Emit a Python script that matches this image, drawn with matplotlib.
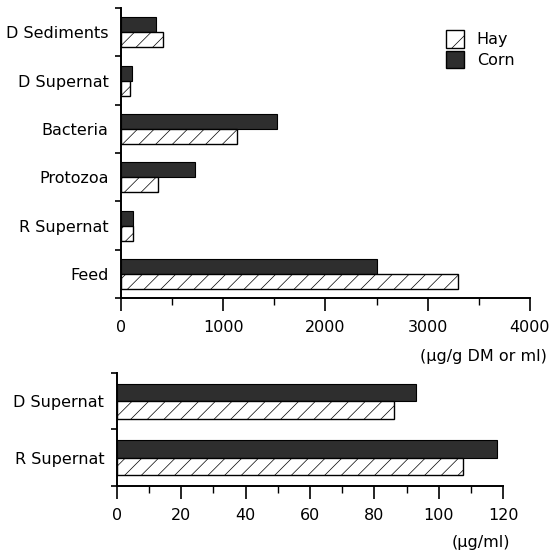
import matplotlib.pyplot as plt
from matplotlib.patches import Patch
import numpy as np

plt.rcParams['font.family'] = 'DejaVu Sans'
plt.rcParams['hatch.linewidth'] = 0.5
plt.rcParams['hatch.color'] = '#666666'

# top panel (ug/g DM or ml)
top_cats = ["D Sediments", "D Supernat", "Bacteria", "Protozoa", "R Supernat", "Feed"]
top_hay = [412, 88, 1137, 363, 115, 3300]
top_corn = [343, 108, 1530, 725, 118, 2500]

# bottom panel (ug/ml)
bot_cats = ["D Supernat", "R Supernat"]
bot_hay = [86, 107.5]
bot_corn = [93, 118]

corn_color = '#2e2e2e'
fs = 11.5


def draw_panel(ax, cats, hay, corn, xmax, major, minor):
    n = len(cats)
    y = np.arange(n)[::-1]
    h = 0.31
    ax.barh(y + h / 2, corn, height=h, color=corn_color, edgecolor='black', linewidth=0.8)
    ax.barh(y - h / 2, hay, height=h, color='white', edgecolor='black', linewidth=1.0, hatch='//')
    ax.set_ylim(-0.5, n - 0.5)
    ax.set_xlim(0, xmax)
    ax.set_yticks(y)
    ax.set_yticklabels(cats, fontsize=fs)
    ax.set_yticks(np.arange(n + 1) - 0.5, minor=True)
    ax.tick_params(axis='y', which='major', length=0, pad=9)
    ax.tick_params(axis='y', which='minor', length=4, width=1.2, direction='out')
    ax.set_xticks(np.arange(0, xmax + 1, major))
    ax.set_xticks(np.arange(0, xmax + 1, minor), minor=True)
    ax.tick_params(axis='x', which='major', length=9, width=1.2, labelsize=fs, pad=7)
    ax.tick_params(axis='x', which='minor', length=5, width=1.0)
    for s in ['top', 'right']:
        ax.spines[s].set_visible(False)
    for s in ['left', 'bottom']:
        ax.spines[s].set_linewidth(1.4)


fig = plt.figure(figsize=(5.56, 5.53), dpi=100)
ax1 = fig.add_axes([0.2176, 0.461, 0.7355, 0.5245])
ax2 = fig.add_axes([0.21, 0.1212, 0.695, 0.2043])

draw_panel(ax1, top_cats, top_hay, top_corn, 4000, 1000, 500)
draw_panel(ax2, bot_cats, bot_hay, bot_corn, 120, 20, 10)

fig.text(547 / 556, 1 - 357 / 553, "(\u00b5g/g DM or ml)", ha='right', va='center', fontsize=fs)
fig.text(510 / 556, 1 - 542 / 553, "(\u00b5g/ml)", ha='right', va='center', fontsize=fs)

handles = [Patch(facecolor='white', edgecolor='black', hatch='/', label='Hay'),
           Patch(facecolor=corn_color, edgecolor='black', label='Corn')]
fig.legend(handles=handles, loc='upper left', bbox_to_anchor=(432 / 556, 1 - 16 / 553),
           frameon=False, fontsize=fs, handlelength=1.1, handleheight=1.3,
           handletextpad=0.8, labelspacing=0.2)

fig.savefig('out.png', dpi=100)
